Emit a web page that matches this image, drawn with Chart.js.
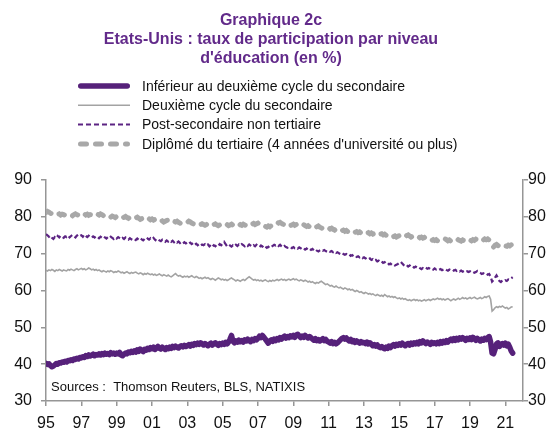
<!DOCTYPE html>
<html>
<head>
<meta charset="utf-8">
<script src="https://cdn.jsdelivr.net/npm/chart.js@4/dist/chart.umd.min.js"></script>
<style>
  body { margin: 0; background: #fff; }
  canvas { display: block; }
</style>
</head>
<body>
<canvas id="grafico" width="556" height="428"></canvas>
<script>
// Annees (une ligne de valeurs mensuelles par annee)
const annees = [1995, 1996, 1997, 1998, 1999, 2000, 2001, 2002, 2003, 2004, 2005, 2006, 2007, 2008,
    2009, 2010, 2011, 2012, 2013, 2014, 2015, 2016, 2017, 2018, 2019, 2020, 2021];
const anneesTicks = [1995, 1997, 1999, 2001, 2003, 2005, 2007, 2009, 2011, 2013, 2015, 2017, 2019, 2021];
const valeursY = [30, 40, 50, 60, 70, 80, 90];

const titre = ["Graphique 2c", "Etats-Unis : taux de participation par niveau", "d'éducation (en %)"];
const sources = "Sources :  Thomson Reuters, BLS, NATIXIS";

const nomsSeries = [
    "Inférieur au deuxième cycle du secondaire",
    "Deuxième cycle du secondaire",
    "Post-secondaire non tertiaire",
    "Diplômé du tertiaire (4 années d'université ou plus)"
];

const inferieur = [
    [40.2, 39.9, 40.1, 39.6, 39.3, 39.5, 39.8, 40.2, 40.0, 40.4, 40.3, 40.6],
    [40.5, 40.8, 40.6, 41.0, 40.9, 41.2, 41.0, 41.4, 41.3, 41.6, 41.4, 41.8],
    [41.7, 42.0, 41.8, 42.3, 42.1, 42.5, 42.2, 42.4, 42.7, 42.3, 42.6, 42.5],
    [42.8, 42.5, 42.9, 42.6, 43.0, 42.7, 42.9, 42.6, 43.1, 42.8, 43.0, 42.7],
    [43.0, 42.8, 43.2, 42.5, 42.3, 42.7, 43.0, 42.8, 43.3, 43.1, 43.5, 43.2],
    [43.6, 43.3, 43.9, 43.5, 44.1, 43.7, 43.4, 44.0, 43.8, 44.3, 44.0, 44.5],
    [44.2, 44.6, 44.0, 44.4, 44.8, 44.3, 44.1, 44.6, 44.3, 44.0, 44.5, 44.2],
    [44.6, 44.3, 44.8, 44.5, 44.9, 44.6, 44.4, 44.8, 45.0, 44.7, 45.1, 44.8],
    [45.0, 45.3, 44.9, 45.4, 45.1, 45.6, 45.3, 45.7, 45.4, 45.8, 45.5, 45.2],
    [45.6, 45.3, 45.0, 45.4, 45.7, 45.2, 45.5, 45.8, 45.4, 45.1, 45.6, 45.3],
    [45.7, 45.4, 45.9, 45.5, 46.0, 46.8, 47.8, 46.2, 45.8, 46.3, 46.0, 46.5],
    [46.1, 46.4, 46.0, 46.6, 46.3, 46.8, 46.4, 46.1, 46.7, 46.4, 46.9, 46.6],
    [47.0, 47.6, 47.2, 47.8, 47.3, 46.8, 46.2, 45.7, 46.3, 46.6, 46.2, 46.8],
    [46.4, 46.9, 46.6, 47.2, 46.8, 47.3, 47.6, 47.1, 47.5, 47.2, 47.7, 47.4],
    [47.8, 47.3, 47.9, 48.1, 47.6, 47.2, 47.6, 47.3, 47.8, 47.4, 47.1, 47.5],
    [47.2, 46.8, 46.5, 46.9, 46.4, 46.7, 46.3, 46.6, 46.9, 46.4, 46.7, 46.2],
    [46.0, 45.7, 46.1, 45.6, 45.9, 45.5, 45.8, 46.2, 46.6, 47.0, 47.2, 46.8],
    [47.1, 46.6, 46.3, 46.7, 46.1, 46.4, 45.9, 46.3, 46.0, 45.7, 46.1, 45.8],
    [45.9, 45.6, 46.0, 45.5, 45.8, 45.4, 45.0, 45.3, 44.9, 45.2, 44.7, 44.5],
    [44.8, 44.4, 44.2, 44.6, 44.3, 44.9, 44.5, 45.0, 45.3, 44.9, 45.4, 45.1],
    [45.5, 45.2, 45.7, 45.3, 45.0, 45.4, 45.6, 45.2, 45.7, 45.4, 45.8, 45.5],
    [45.9, 45.5, 46.1, 45.8, 46.3, 45.9, 45.6, 46.0, 45.7, 45.4, 45.9, 45.6],
    [45.8, 45.5, 45.9, 45.6, 46.1, 45.7, 46.2, 45.9, 46.4, 46.0, 46.5, 46.8],
    [46.4, 46.9, 46.5, 47.0, 46.6, 47.1, 46.8, 47.2, 46.9, 46.5, 47.0, 46.7],
    [47.1, 46.7, 47.3, 46.9, 46.5, 47.0, 46.6, 46.3, 46.8, 46.5, 47.0, 46.7],
    [47.2, 47.5, 46.0, 43.0, 42.8, 44.0, 45.5, 45.8, 44.8, 45.3, 45.6, 45.2],
    [45.7, 45.0, 45.4, 44.6, 43.6, 43.0]
];

const secondaire = [
    [65.5, 65.3, 65.6, 65.4, 65.7, 65.5, 65.2, 65.6, 65.4, 65.7, 65.5, 65.3],
    [65.6, 65.4, 65.3, 65.7, 65.5, 65.8, 65.6, 65.4, 65.7, 65.9, 65.6, 65.8],
    [66.0, 65.7, 65.9, 65.6, 65.8, 66.1, 65.9, 65.6, 65.8, 65.5, 65.7, 65.4],
    [65.6, 65.3, 65.1, 65.4, 65.2, 65.0, 65.3, 65.1, 65.4, 65.2, 64.9, 65.1],
    [65.0, 65.3, 65.1, 64.8, 65.0, 64.7, 64.9, 65.1, 64.8, 64.6, 64.9, 64.7],
    [64.9, 65.0, 64.7, 64.5, 64.8, 64.6, 64.3, 64.6, 64.4, 64.7, 64.5, 64.3],
    [64.5, 64.2, 64.4, 64.1, 64.3, 64.5, 64.2, 64.0, 64.3, 64.1, 63.9, 64.2],
    [63.9, 63.7, 64.0, 64.3, 64.6, 64.2, 63.9, 64.1, 63.8, 63.6, 63.9, 63.7],
    [63.9, 63.6, 63.8, 64.0, 63.7, 63.5, 63.8, 63.6, 63.3, 63.5, 63.2, 63.4],
    [63.6, 63.3, 63.5, 63.2, 63.0, 63.3, 63.1, 62.8, 63.1, 63.4, 63.2, 62.9],
    [63.1, 62.8, 63.0, 62.7, 62.9, 63.2, 63.4, 63.1, 62.9, 62.6, 62.9, 62.7],
    [62.5, 62.8, 63.0, 62.7, 63.1, 63.4, 63.7, 63.4, 63.1, 62.8, 63.0, 62.7],
    [62.9, 62.6, 62.8, 62.5, 62.7, 62.9, 62.6, 62.4, 62.7, 62.5, 62.8, 62.6],
    [62.8, 63.0, 62.7, 62.9, 63.1, 62.8, 63.0, 62.7, 62.9, 63.1, 62.8, 63.0],
    [63.2, 62.9, 63.1, 62.8, 62.6, 62.9, 62.7, 62.5, 62.8, 62.6, 62.3, 62.5],
    [62.2, 62.4, 62.1, 61.9, 62.2, 62.0, 62.3, 62.5, 62.2, 61.9, 61.6, 61.8],
    [61.5, 61.2, 61.4, 61.1, 60.9, 61.2, 60.9, 60.7, 60.9, 60.6, 60.4, 60.7],
    [60.5, 60.2, 60.4, 60.1, 60.3, 60.0, 59.7, 60.0, 59.8, 59.5, 59.7, 59.4],
    [59.2, 59.5, 59.3, 59.0, 59.2, 58.9, 59.1, 58.8, 58.6, 58.9, 58.7, 58.5],
    [58.7, 58.4, 58.9, 58.6, 58.3, 58.5, 58.2, 58.4, 58.1, 58.3, 58.0, 57.8],
    [58.0, 57.7, 57.9, 57.6, 57.8, 57.5, 57.3, 57.5, 57.2, 57.4, 57.6, 57.3],
    [57.5, 57.2, 57.4, 57.1, 57.3, 57.5, 57.2, 57.4, 57.6, 57.3, 57.5, 57.7],
    [57.5, 57.7, 57.9, 57.6, 57.8, 57.5, 57.7, 57.4, 57.6, 57.8, 57.5, 57.2],
    [57.5, 57.7, 57.4, 57.6, 57.9, 57.6, 57.8, 58.1, 57.8, 58.0, 57.7, 57.9],
    [58.1, 57.8, 58.0, 58.2, 57.9, 57.7, 57.9, 58.1, 57.8, 58.0, 58.3, 58.1],
    [58.4, 58.5, 57.6, 54.4, 54.8, 55.3, 55.6, 55.4, 55.7, 55.5, 55.8, 55.5],
    [55.2, 55.4, 55.0, 55.2, 55.5, 55.6]
];

const postSecondaire = [
    [75.3, 75.0, 74.6, 74.9, 74.3, 74.0, 74.5, 74.2, 74.8, 74.4, 74.9, 74.6],
    [74.3, 74.7, 74.5, 74.9, 74.4, 74.8, 75.1, 74.7, 74.4, 74.9, 75.2, 74.8],
    [75.0, 74.6, 75.2, 74.8, 74.5, 74.9, 74.6, 74.3, 74.7, 74.4, 74.8, 74.5],
    [74.2, 74.6, 74.3, 74.7, 74.4, 74.1, 74.5, 74.2, 74.6, 74.3, 74.0, 74.4],
    [74.1, 74.5, 74.2, 73.9, 74.3, 74.0, 74.4, 74.1, 73.8, 74.2, 73.9, 73.7],
    [74.0, 73.7, 74.1, 73.8, 74.2, 73.9, 73.6, 74.0, 73.7, 74.1, 73.8, 74.2],
    [73.9, 74.3, 73.8, 73.5, 73.9, 73.6, 73.4, 73.8, 73.5, 73.2, 73.6, 73.3],
    [73.6, 73.2, 73.5, 73.1, 73.4, 73.0, 73.3, 72.9, 73.2, 72.8, 73.1, 72.8],
    [73.1, 72.7, 73.0, 72.6, 72.9, 72.4, 72.7, 72.3, 72.6, 72.2, 72.5, 72.3],
    [72.6, 72.2, 72.5, 72.0, 72.4, 71.9, 72.3, 72.0, 72.4, 72.1, 72.6, 72.3],
    [72.7, 73.2, 72.6, 72.0, 71.8, 72.2, 71.9, 72.3, 72.0, 72.4, 72.1, 72.5],
    [72.2, 72.6, 72.3, 72.0, 72.4, 72.1, 72.5, 72.2, 71.9, 72.3, 72.0, 72.4],
    [72.1, 71.8, 72.2, 71.9, 72.3, 71.9, 71.6, 71.9, 71.5, 71.8, 72.1, 72.4],
    [72.2, 72.5, 72.1, 72.4, 72.0, 71.7, 72.1, 71.8, 71.6, 71.9, 71.7, 71.5],
    [71.8, 71.5, 71.7, 71.4, 71.7, 71.5, 71.2, 71.5, 71.1, 71.4, 71.0, 71.3],
    [71.0, 71.3, 70.9, 71.2, 70.8, 70.6, 70.9, 71.1, 70.8, 71.0, 70.7, 70.5],
    [70.8, 70.5, 70.7, 70.4, 70.6, 70.2, 70.4, 70.1, 69.9, 70.2, 69.9, 69.7],
    [69.9, 69.6, 69.8, 69.4, 69.6, 69.3, 69.5, 69.1, 69.3, 69.0, 69.2, 68.8],
    [69.0, 68.7, 68.9, 68.5, 68.7, 68.3, 68.5, 68.1, 68.3, 67.9, 68.1, 67.7],
    [67.9, 67.5, 67.7, 67.3, 67.5, 67.1, 67.3, 66.9, 67.1, 66.8, 67.0, 67.2],
    [67.5, 67.8, 67.3, 66.9, 66.6, 66.9, 66.5, 66.8, 66.4, 66.6, 66.2, 66.5],
    [66.2, 66.4, 66.1, 65.8, 66.1, 65.9, 66.2, 65.9, 66.1, 65.8, 66.0, 65.7],
    [66.0, 65.7, 65.9, 65.6, 65.8, 65.5, 65.7, 65.9, 65.6, 65.4, 65.7, 65.5],
    [65.7, 65.4, 65.6, 65.3, 65.5, 65.2, 65.4, 65.1, 65.3, 65.0, 65.2, 65.0],
    [65.2, 64.9, 65.1, 64.8, 65.0, 65.3, 65.0, 64.8, 64.5, 64.7, 64.4, 64.6],
    [64.3, 64.5, 63.8, 62.4, 62.8, 63.5, 64.1, 63.4, 62.6, 62.3, 62.7, 62.5],
    [62.8, 62.6, 63.0, 62.9, 63.3, 63.6]
];

const diplome = [
    [81.2, 81.5, 81.3, 81.0, 80.8, 80.9, 80.7, 80.9, 80.6, 80.8, 80.5, 80.7],
    [80.6, 80.4, 80.6, 80.5, 80.7, 80.5, 80.3, 80.6, 80.8, 80.6, 80.4, 80.7],
    [80.9, 80.6, 80.8, 80.5, 80.7, 80.4, 80.6, 80.5, 80.3, 80.6, 80.4, 80.7],
    [80.5, 80.8, 80.6, 80.3, 80.5, 80.2, 80.4, 80.1, 79.9, 80.2, 80.0, 79.8],
    [80.1, 79.9, 80.2, 80.0, 79.7, 79.9, 80.1, 79.8, 79.6, 79.9, 80.1, 80.2],
    [80.0, 79.7, 79.9, 79.6, 79.3, 79.5, 79.2, 79.4, 79.1, 79.3, 79.5, 79.2],
    [79.4, 79.1, 79.3, 79.0, 79.2, 78.9, 78.7, 78.9, 78.6, 78.8, 79.0, 79.2],
    [79.0, 79.3, 79.1, 78.8, 78.6, 78.8, 78.5, 78.3, 78.0, 78.2, 78.4, 78.6],
    [78.5, 78.8, 78.6, 78.3, 78.1, 78.4, 78.2, 78.0, 77.8, 77.9, 78.1, 77.9],
    [77.7, 77.9, 77.6, 77.8, 78.0, 77.7, 77.9, 78.1, 77.8, 77.6, 77.8, 78.0],
    [77.8, 77.5, 77.7, 77.9, 77.6, 77.8, 78.0, 77.7, 77.9, 78.1, 77.8, 77.6],
    [77.9, 77.7, 78.0, 77.8, 77.6, 77.9, 78.1, 78.3, 78.0, 78.2, 77.9, 78.1],
    [78.3, 78.0, 78.2, 77.9, 77.6, 77.4, 77.2, 77.5, 77.3, 77.6, 77.9, 78.2],
    [78.4, 78.6, 78.3, 78.5, 78.2, 78.0, 77.8, 78.0, 77.7, 77.9, 77.6, 77.8],
    [78.0, 77.7, 77.9, 77.6, 77.8, 77.5, 77.7, 77.9, 77.6, 77.4, 77.6, 77.3],
    [77.5, 77.2, 77.4, 77.1, 77.3, 77.5, 77.2, 77.0, 76.8, 77.0, 76.7, 76.9],
    [77.0, 76.7, 76.9, 76.6, 76.4, 76.7, 76.5, 76.3, 76.5, 76.2, 76.4, 76.1],
    [76.3, 76.0, 76.2, 76.5, 76.3, 76.1, 75.8, 76.0, 75.7, 75.9, 75.6, 75.8],
    [75.6, 75.8, 75.5, 75.7, 75.4, 75.6, 75.3, 75.5, 75.2, 75.4, 75.1, 75.3],
    [75.4, 75.1, 75.3, 75.0, 74.8, 75.0, 74.7, 74.9, 74.6, 74.8, 74.5, 74.7],
    [74.9, 75.1, 74.8, 75.0, 75.2, 74.9, 75.1, 74.8, 74.5, 74.7, 74.4, 74.6],
    [74.4, 74.6, 74.3, 74.5, 74.2, 74.4, 74.1, 73.9, 73.7, 73.9, 73.6, 73.8],
    [73.6, 73.8, 73.5, 73.7, 73.9, 74.1, 74.3, 74.0, 73.8, 73.5, 73.7, 73.4],
    [73.6, 73.4, 73.7, 73.5, 73.8, 73.6, 73.4, 73.7, 73.5, 73.8, 73.6, 73.9],
    [73.7, 73.5, 73.8, 73.6, 73.9, 73.7, 73.4, 73.6, 73.9, 73.7, 74.0, 73.8],
    [74.0, 73.7, 73.2, 72.2, 71.8, 72.3, 72.5, 72.2, 72.0, 72.3, 72.1, 71.9],
    [72.1, 72.0, 72.3, 72.1, 72.4, 72.5]
];

const VIOLET = "#56217A";
const GRIS = "#A3A3A3";
const AXE = "#969696";
const POLICE = '"Liberation Sans", Arial, sans-serif';

// une ligne par annee -> points {x: annee + mois/12, y: valeur}
function versPoints(serie) {
    const pts = [];
    serie.forEach((ligne, a) => {
        ligne.forEach((v, m) => pts.push({ x: annees[a] + m / 12, y: v }));
    });
    return pts;
}

// titre, legende et sources dessines a la main
const habillage = {
    id: "habillage",
    afterDraw(chart) {
        const ctx = chart.ctx;
        ctx.save();
        ctx.fillStyle = "#622A8A";
        ctx.font = "bold 16px " + POLICE;
        ctx.textAlign = "center";
        ctx.textBaseline = "alphabetic";
        titre.forEach((t, i) => ctx.fillText(t, 271, 25 + i * 19));

        const yLeg = [86, 105.3, 124.5, 144];
        chart.data.datasets.forEach((ds, i) => {
            const w = ds.borderWidth;
            const rond = ds.borderCapStyle === "round";
            ctx.beginPath();
            ctx.strokeStyle = ds.borderColor;
            ctx.lineWidth = w;
            ctx.lineCap = ds.borderCapStyle || "butt";
            ctx.setLineDash(ds.borderDash || []);
            ctx.moveTo(78 + (rond ? w / 2 : 0), yLeg[i]);
            ctx.lineTo(130 - (rond ? w / 2 : 0), yLeg[i]);
            ctx.stroke();
            ctx.setLineDash([]);
            ctx.fillStyle = "#111";
            ctx.font = "14px " + POLICE;
            ctx.textAlign = "left";
            ctx.textBaseline = "middle";
            ctx.fillText(ds.label, 142, yLeg[i] + 1);
        });

        ctx.fillStyle = "#111";
        ctx.font = "13px " + POLICE;
        ctx.textBaseline = "alphabetic";
        ctx.fillText(sources, 51, 391);
        ctx.restore();
    }
};

const axeY = (position, largeur, pad) => ({
    position: position,
    min: 30,
    max: 90,
    afterBuildTicks: s => { s.ticks = valeursY.map(v => ({ value: v })); },
    ticks: { color: "#111", font: { family: POLICE, size: 16 }, padding: pad },
    grid: { drawOnChartArea: false, tickLength: 5, color: AXE, lineWidth: 1.5 },
    border: { color: AXE, width: 1.5 },
    afterFit: s => { s.width = largeur; }
});

new Chart(document.getElementById("grafico"), {
    type: "line",
    data: {
        datasets: [
            { label: nomsSeries[0], data: versPoints(inferieur), borderColor: VIOLET, borderWidth: 5.5,
              borderCapStyle: "round", borderJoinStyle: "round" },
            { label: nomsSeries[1], data: versPoints(secondaire), borderColor: GRIS, borderWidth: 1.6 },
            { label: nomsSeries[2], data: versPoints(postSecondaire), borderColor: "#5C2483", borderWidth: 2.2,
              borderDash: [5, 3] },
            { label: nomsSeries[3], data: versPoints(diplome), borderColor: "#A8A8A8", borderWidth: 5,
              borderDash: [6, 9], borderCapStyle: "round" }
        ]
    },
    options: {
        responsive: false,
        animation: false,
        layout: { padding: { top: 180, left: 0, right: 0, bottom: 0 } },
        elements: { point: { radius: 0 }, line: { tension: 0 } },
        plugins: { legend: { display: false }, title: { display: false }, tooltip: { enabled: false } },
        scales: {
            x: {
                type: "linear",
                min: 1995,
                max: 2022,
                afterBuildTicks: s => { s.ticks = anneesTicks.map(v => ({ value: v })); },
                ticks: {
                    color: "#111",
                    font: { family: POLICE, size: 16 },
                    padding: 8,
                    maxRotation: 0,
                    autoSkip: false,
                    callback: v => String(v).slice(2)
                },
                grid: { drawOnChartArea: false, tickLength: 5, color: AXE, lineWidth: 1.5 },
                border: { color: AXE, width: 1.5 },
                afterFit: s => { s.height = 27; }
            },
            y: axeY("left", 46, 9),
            y2: axeY("right", 33, 0)
        }
    },
    plugins: [habillage]
});
</script>
</body>
</html>
